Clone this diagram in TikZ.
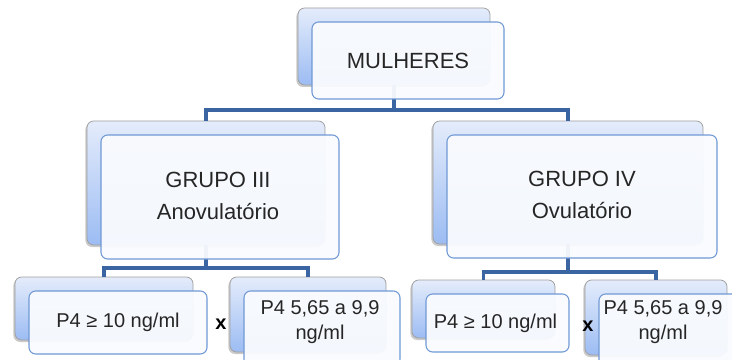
\documentclass[tikz,border=0pt]{standalone}
\usepackage{fontspec}
\setmainfont{Liberation Sans}
\usetikzlibrary{shadows,calc}

\definecolor{linkblue}{HTML}{3B64A2}
\definecolor{backtop}{HTML}{E4ECFB}
\definecolor{backbot}{HTML}{9CBCF3}
\definecolor{frontline}{HTML}{6F99D5}
\definecolor{frontfill}{HTML}{F9FBFE}
\definecolor{txtgray}{HTML}{262626}

\tikzset{
  back/.style={draw=gray!75, line width=0.6pt, rounded corners=5pt,
    top color=backtop, bottom color=backbot, inner sep=0pt,
    drop shadow={shadow xshift=-1.2pt, shadow yshift=-1.5pt, opacity=0.35, fill=black!60}},
  front/.style={draw=frontline, line width=0.8pt, rounded corners=5pt,
    fill=frontfill, fill opacity=0.95, inner sep=0pt},
  bigtxt/.style={text=txtgray, align=center, font=\fontsize{16.5}{24}\selectfont},
  smalltxt/.style={text=txtgray, align=center, font=\fontsize{15}{18.75}\selectfont},
  link/.style={draw=linkblue, line width=2.4pt}
}

\begin{document}
\begin{tikzpicture}[x=0.75pt,y=-0.75pt]
  \useasboundingbox (0,0) rectangle (732,360);
  \clip (0,0) rectangle (732,360);
  \node[back, minimum width=144pt, minimum height=57.75pt] (mb) at (394,46.5) {};
  \node[back, minimum width=178.5pt, minimum height=93pt] (g3b) at (206,183) {};
  \node[back, minimum width=202.5pt, minimum height=92.25pt] (g4b) at (568,182.5) {};
  \node[back, minimum width=133.5pt, minimum height=47.25pt] (b1b) at (104,308.5) {};
  \node[back, minimum width=117pt, minimum height=56.25pt] (b2b) at (308,314.5) {};
  \node[back, minimum width=107.25pt, minimum height=43.5pt] (b3b) at (483.5,309) {};
  \node[back, minimum width=106.5pt, minimum height=56.25pt] (b4b) at (656,317.5) {};
  \coordinate (j1) at (394,110);
  \coordinate (j3) at (206,268);
  \coordinate (j4) at (568,272);
  \draw[link] (mb.south) -- (j1);
  \draw[link] (g3b.north) |- (j1) -| (g4b.north);
  \draw[link] (g3b.south) -- (j3);
  \draw[link] (b1b.north) |- (j3) -| (b2b.north);
  \draw[link] (g4b.south) -- (j4);
  \draw[link] (b3b.north) |- (j4) -| (b4b.north);
  \node[front, minimum width=144pt, minimum height=57.75pt] (mf) at (408,60.5) {};
  \node[front, minimum width=178.5pt, minimum height=93pt] (g3f) at (220,197) {};
  \node[front, minimum width=202.5pt, minimum height=92.25pt] (g4f) at (582,196.5) {};
  \node[front, minimum width=133.5pt, minimum height=47.25pt] (b1f) at (118,322.5) {};
  \node[front, minimum width=117pt, minimum height=56.25pt] (b2f) at (322,328.5) {};
  \node[front, minimum width=107.25pt, minimum height=43.5pt] (b3f) at (497.5,323) {};
  \node[front, minimum width=106.5pt, minimum height=56.25pt] (b4f) at (670,331.5) {};
  \node[bigtxt] (mt) at (mf.center) {MULHERES};
  \node[bigtxt] (g3t) at ([shift={(-2,-1)}]g3f.center) {GRUPO III\\Anovulatório};
  \node[bigtxt] (g4t) at ([shift={(0,-2)}]g4f.center) {GRUPO IV\\Ovulatório};
  \node[smalltxt] (b1t) at (b1f.center) {P4 ≥ 10 ng/ml};
  \node[smalltxt] (b2t) at ([shift={(-2,-6)}]b2f.center) {P4 5,65 a 9,9\\ng/ml};
  \node[smalltxt] (b3t) at ([shift={(-2,0)}]b3f.center) {P4 ≥ 10 ng/ml};
  \node[smalltxt] (b4t) at ([shift={(-7,-9)}]b4f.center) {P4 5,65 a 9,9\\ng/ml};
  \node[smalltxt, text=black, font=\fontsize{15}{18.75}\selectfont\bfseries] (x1) at (221,324) {x};
  \node[smalltxt, text=black, font=\fontsize{15}{18.75}\selectfont\bfseries] (x2) at (588,326) {x};
\end{tikzpicture}
\end{document}
